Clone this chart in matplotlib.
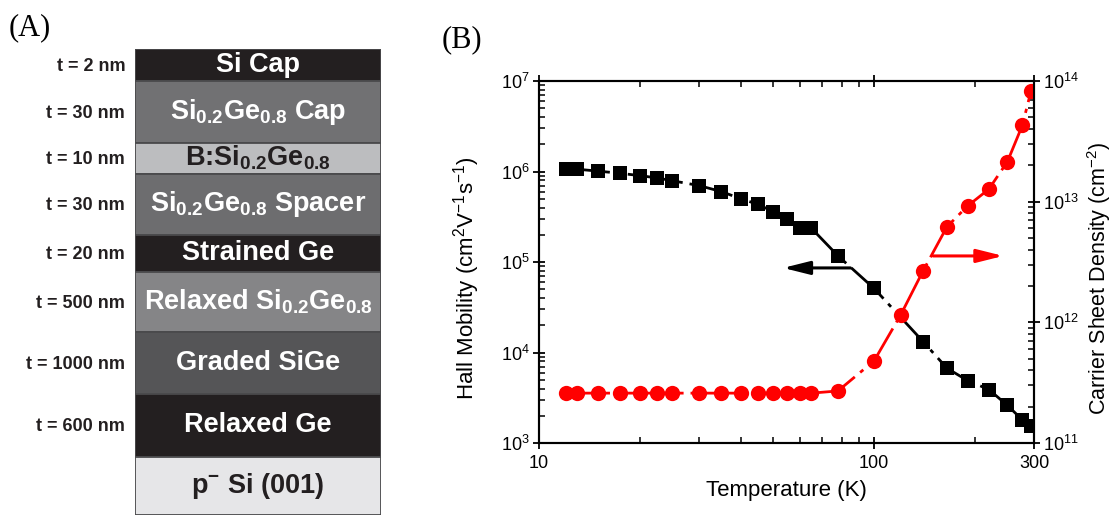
import matplotlib
matplotlib.use("Agg")
import matplotlib.pyplot as plt
from matplotlib.ticker import LogLocator, NullFormatter, FixedLocator, FixedFormatter

plt.rcParams['font.family'] = ['Liberation Sans', 'DejaVu Sans']
plt.rcParams['mathtext.fontset'] = 'custom'
plt.rcParams['mathtext.rm'] = 'Liberation Sans'
plt.rcParams['mathtext.it'] = 'Liberation Sans:italic'
plt.rcParams['mathtext.bf'] = 'Liberation Sans:bold'

# ---------------- Data: panel A (layer stack) ----------------
layer_names = ["Si Cap",
               r"Si$_{\mathbf{0.2}}$Ge$_{\mathbf{0.8}}$ Cap",
               r"B:Si$_{\mathbf{0.2}}$Ge$_{\mathbf{0.8}}$",
               r"Si$_{\mathbf{0.2}}$Ge$_{\mathbf{0.8}}$ Spacer",
               "Strained Ge",
               r"Relaxed Si$_{\mathbf{0.2}}$Ge$_{\mathbf{0.8}}$",
               "Graded SiGe",
               "Relaxed Ge",
               r"p$^{\mathbf{-}}$ Si (001)"]
layer_thickness_labels = ["t = 2 nm", "t = 30 nm", "t = 10 nm", "t = 30 nm",
                          "t = 20 nm", "t = 500 nm", "t = 1000 nm", "t = 600 nm", ""]
layer_draw_heights = [31.7, 62, 30.5, 61.5, 36.7, 60.6, 61.7, 62.7, 58.3]
layer_colors = ["#231f20", "#717173", "#bcbdbf", "#6d6d6f", "#231f20",
                "#858587", "#555557", "#231f20", "#e6e6e8"]
layer_text_colors = ["white", "white", "#231f20", "white", "white",
                     "white", "white", "white", "#231f20"]

# ---------------- Data: panel B ----------------
mobility_temperature = [12, 13, 15, 17.5, 20, 22.5, 25, 30, 35, 40, 45, 50, 55, 60, 65, 78,
                        100, 140, 165, 190, 220, 250, 277, 294]
hall_mobility = [1.06e6, 1.06e6, 1.01e6, 9.55e5, 9.0e5, 8.5e5, 7.9e5, 7.0e5, 6.0e5,
                 5.0e5, 4.34e5, 3.6e5, 2.96e5, 2.4e5, 2.36e5, 1.17e5,
                 5.1e4, 1.32e4, 6.7e3, 4.9e3, 3.9e3, 2.6e3, 1.8e3, 1.55e3]
density_temperature = [12, 13, 15, 17.5, 20, 22.5, 25, 30, 35, 40, 45, 50, 55, 60, 65, 78,
                       100, 120, 140, 165, 190, 220, 250, 277, 294]
sheet_density = [2.59e11, 2.59e11, 2.59e11, 2.59e11, 2.59e11, 2.59e11, 2.59e11, 2.59e11,
                 2.59e11, 2.59e11, 2.59e11, 2.59e11, 2.59e11, 2.59e11, 2.59e11, 2.7e11,
                 4.8e11, 1.15e12, 2.67e12, 6.2e12, 9.2e12, 1.27e13, 2.15e13, 4.3e13, 8.3e13]

x_ticks = [10, 100, 300]
x_ticklabels = ["10", "100", "300"]
left_ticks = [1e3, 1e4, 1e5, 1e6, 1e7]
left_ticklabels = [r"$10^{3}$", r"$10^{4}$", r"$10^{5}$", r"$10^{6}$", r"$10^{7}$"]
right_ticks = [1e11, 1e12, 1e13, 1e14]
right_ticklabels = [r"$10^{11}$", r"$10^{12}$", r"$10^{13}$", r"$10^{14}$"]

W, H = 1118, 515
fig = plt.figure(figsize=(W / 100, H / 100), dpi=100)

# ---------------- Panel A ----------------
stack_top = 49.3
total_h = sum(layer_draw_heights)
axA = fig.add_axes([135 / W, (H - stack_top - total_h) / H, (381 - 135) / W, total_h / H])
axA.set_xlim(0, 1)
axA.set_ylim(total_h, 0)
axA.axis('off')
bottoms = []
acc = 0
for h in layer_draw_heights:
    bottoms.append(acc)
    acc += h
axA.bar([0.5] * len(layer_draw_heights), layer_draw_heights, bottom=bottoms, width=1.0,
        color=layer_colors, edgecolor="#4a4a4c", linewidth=1.3, align='center')
for name, tl, b, h, tc in zip(layer_names, layer_thickness_labels, bottoms,
                              layer_draw_heights, layer_text_colors):
    axA.text(0.5, b + h / 2, name, ha='center', va='center', color=tc,
             fontsize=19.5, fontweight='bold')
    if tl:
        axA.text(-0.04, b + h / 2 + 1.5, tl, ha='right', va='center', color='#231f20',
                 fontsize=13, fontweight='bold')

fig.text(9 / W, 1 - 28 / H, "(A)", family='Liberation Serif', fontsize=22,
         ha='left', va='center')
fig.text(442 / W, 1 - 40 / H, "(B)", family='Liberation Serif', fontsize=22,
         ha='left', va='center')

# ---------------- Panel B ----------------
axB = fig.add_axes([539 / W, (H - 443) / H, (1034 - 539) / W, (443 - 81) / H])
axB.set_xscale('log')
axB.set_yscale('log')
axB.set_xlim(10, 300)
axB.set_ylim(1e3, 1e7)

line_kw = dict(linewidth=2.0, dashes=(16, 2.5, 1.5, 2.5))
axB.plot(mobility_temperature, hall_mobility, color='black', marker='s', markersize=10,
         markeredgewidth=0, **line_kw)

axB.xaxis.set_major_locator(FixedLocator(x_ticks))
axB.xaxis.set_major_formatter(FixedFormatter(x_ticklabels))
axB.xaxis.set_minor_locator(LogLocator(base=10, subs=range(2, 10)))
axB.xaxis.set_minor_formatter(NullFormatter())
axB.yaxis.set_major_locator(FixedLocator(left_ticks))
axB.yaxis.set_major_formatter(FixedFormatter(left_ticklabels))
axB.yaxis.set_minor_locator(LogLocator(base=10, subs=range(2, 10)))
axB.yaxis.set_minor_formatter(NullFormatter())

axB.tick_params(axis='x', which='major', direction='inout', length=9, width=1.3,
                top=True, labelsize=13, pad=4)
axB.tick_params(axis='x', which='minor', direction='in', length=4, width=1.1, top=True)
axB.tick_params(axis='y', which='major', direction='inout', length=9, width=1.3,
                right=False, labelsize=13, pad=2)
axB.tick_params(axis='y', which='minor', direction='in', length=4, width=1.1, right=False)
for s in axB.spines.values():
    s.set_linewidth(1.5)

axB.set_xlabel("Temperature (K)", fontsize=16, labelpad=6)
axB.set_ylabel(r"Hall Mobility (cm$^{2}$V$^{-1}$s$^{-1}$)", fontsize=16)
axB.yaxis.set_label_coords(-0.115, 0.455)

axR = axB.twinx()
axR.set_yscale('log')
axR.set_ylim(1e11, 1e14)
axR.plot(density_temperature, sheet_density, color='#ff0000', marker='o', markersize=11,
         markeredgewidth=0, **line_kw)
axR.yaxis.set_major_locator(FixedLocator(right_ticks))
axR.yaxis.set_major_formatter(FixedFormatter(right_ticklabels))
axR.yaxis.set_minor_locator(LogLocator(base=10, subs=range(2, 10)))
axR.yaxis.set_minor_formatter(NullFormatter())
axR.tick_params(axis='y', which='major', direction='inout', length=9, width=1.3,
                labelsize=13, pad=2)
axR.tick_params(axis='y', which='minor', direction='in', length=4, width=1.1)
for s in axR.spines.values():
    s.set_linewidth(1.5)
axR.set_ylabel(r"Carrier Sheet Density (cm$^{-2}$)", fontsize=15.5)
axR.yaxis.set_label_coords(1.103, 0.455)

# arrows indicating which axis each curve belongs to
axB.annotate("", xy=(53.5, 8.6e4), xytext=(85, 8.6e4),
             arrowprops=dict(arrowstyle='-|>,head_length=1.6,head_width=0.4',
                             color='black', lw=2.2, shrinkA=0, shrinkB=0))
axR.annotate("", xy=(243, 3.55e12), xytext=(150, 3.55e12),
             arrowprops=dict(arrowstyle='-|>,head_length=1.6,head_width=0.4',
                             color='#ff0000', lw=2.2, shrinkA=0, shrinkB=0))

fig.savefig("out.png", dpi=100)
